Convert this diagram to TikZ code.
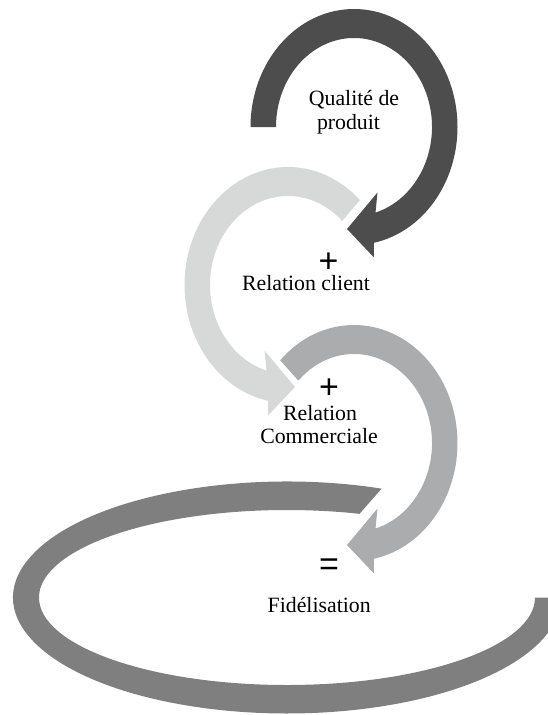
\documentclass[tikz,border=0pt]{standalone}
\usepackage{fontspec}
\setmainfont{Liberation Serif}
\newfontfamily\symfamily{Liberation Sans}
\usetikzlibrary{calc}
\definecolor{arcdark}{HTML}{4D4D4D}
\definecolor{arclight}{HTML}{D7D9D9}
\definecolor{arcmed}{HTML}{ABACAE}
\definecolor{ringgray}{HTML}{7F7F7F}
\tikzset{
  lbl/.style={font=\fontsize{21.8}{24}\selectfont, inner sep=0pt, anchor=base, text=black},
  opsym/.style={font=\symfamily\fontsize{34}{34}\selectfont, inner sep=0pt, anchor=base, text=black}
}
\begin{document}
\begin{tikzpicture}[x=1pt,y=-1pt]
\useasboundingbox (0,0) rectangle (548,715);
\clip (0,0) rectangle (548,715);
\coordinate (cD) at (354,127);
\coordinate (cL) at (288,285);
\coordinate (cM) at (354,443);
\coordinate (cR) at (287,597.5);
% big ring
\fill[ringgray] ($(cR)+({274*cos(290.2)},{116*sin(290.2)})$)
  arc[start angle=290.2, end angle=0, x radius=274, y radius=116]
  -- ($(cR)+(248,0)$)
  arc[start angle=0, end angle=287, x radius=248, y radius=87.5] -- cycle;
% medium arrow
\fill[arcmed] ($(cM)+({103.5*cos(224.5)},{118*sin(224.5)})$)
  arc[start angle=224.5, end angle=439, x radius=103.5, y radius=118]
  -- ($(cM)+(20,130.5)$) -- ($(cM)+(-7,102)$) -- ($(cM)+(23.5,65.5)$)
  -- ($(cM)+({78*cos(434)},{89*sin(434)})$)
  arc[start angle=434, end angle=224.5, x radius=78, y radius=89] -- cycle;
% light arrow
\fill[arclight] ($(cL)+({103.5*cos(314)},{118*sin(314)})$)
  arc[start angle=314, end angle=101, x radius=103.5, y radius=118]
  -- ($(cL)+(-20,130.5)$) -- ($(cL)+(7,102)$) -- ($(cL)+(-23.5,65.5)$)
  -- ($(cL)+({78*cos(106)},{89*sin(106)})$)
  arc[start angle=106, end angle=314, x radius=78, y radius=89] -- cycle;
% dark arrow
\fill[arcdark] ($(cD)+(-103.5,0)$)
  arc[start angle=180, end angle=439, x radius=103.5, y radius=118]
  -- ($(cD)+(20,130.5)$) -- ($(cD)+(-7,102)$) -- ($(cD)+(23.5,65.5)$)
  -- ($(cD)+({78*cos(434)},{89*sin(434)})$)
  arc[start angle=434, end angle=180, x radius=78, y radius=89] -- cycle;
% texts
\node[lbl] (q1) at (354,105) {Qualité de};
\node[lbl] (q2) at (348.5,129.5) {produit};
\node[opsym] (p1) at (328.5,272.5) {+};
\node[lbl] (rc) at (306,290) {Relation client};
\node[opsym] (p2) at (329,398.5) {+};
\node[lbl] (r1) at (320,420) {Relation};
\node[lbl] (r2) at (319,443) {Commerciale};
\node[opsym] (eq) at (329,575) {=};
\node[lbl] (fd) at (319.2,612.8) {Fidélisation};
\end{tikzpicture}
\end{document}
